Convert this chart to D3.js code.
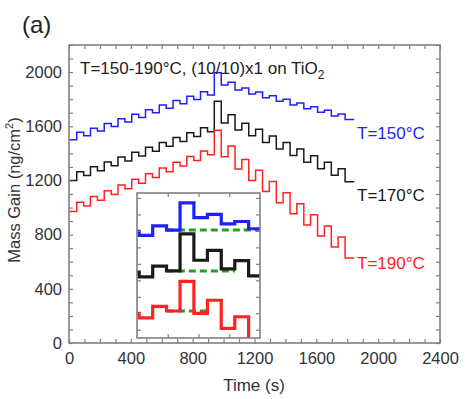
<!DOCTYPE html>
<html><head><meta charset="utf-8">
<script src="https://cdn.jsdelivr.net/npm/d3@7"></script>
<style>body{margin:0;background:#fff} text{font-family:"Liberation Sans",Arial,sans-serif}</style>
</head><body><svg id="c" width="467" height="399"></svg>
<script>
// Shared segment start times (s): alternating low / high plateaus of each ALD cycle
const segmentStart = [0,50,95,139,184,228,273,317,362,406,451,495,540,584,629,673,718,762,807,851,896,
  940,985,1029,1074,1118,1163,1207,1252,1296,1341,1385,1430,1474,1519,1563,1608,1652,1697,1741,1786];
const endTime = 1845;
// Mass gain (ng/cm2) per segment
const mass150 = [1500,1555,1530,1585,1565,1620,1598,1655,1632,1688,1665,1722,1700,1757,1733,1790,1766,1822,1798,1855,1830,
  1995,1905,1925,1868,1882,1838,1853,1811,1826,1784,1799,1757,1772,1730,1745,1703,1718,1676,1691,1650];
const mass170 = [1200,1265,1236,1301,1272,1337,1308,1373,1344,1409,1380,1445,1416,1481,1452,1517,1488,1553,1524,1589,1560,
  1785,1625,1685,1572,1622,1530,1578,1481,1529,1432,1480,1384,1432,1335,1383,1287,1335,1238,1286,1190];
const mass190 = [970,1040,1012,1082,1054,1124,1096,1166,1138,1208,1180,1250,1222,1292,1264,1334,1306,1376,1348,1418,1390,
  1570,1375,1455,1285,1355,1200,1275,1118,1192,1036,1110,954,1028,872,946,790,864,708,782,627];
const seriesNames = ["T=150°C","T=170°C","T=190°C"];
const seriesColors = ["#1f1fff","#1a1a1a","#ff2222"];
// Inset: vertical shift applied to each series, reference levels (green dashes)
const insetShift = [-1175,-1153,-1226];
const refLevel = [1830,1560,1390];
const refStart = [897,897,897];
const refEnd = [1196,1118,1037];
const xTickLabels = [0,400,800,1200,1600,2000,2400];
const yTickLabels = [0,400,800,1200,1600,2000];

const allSeries = [mass150, mass170, mass190];
const svg = d3.select("#c");
const L=69,R=440,T=45,B=343;
const x = d3.scaleLinear().domain([0,2400]).range([L,R]);
const y = d3.scaleLinear().domain([0,2200]).range([B,T]);
const frameColor="#808080", textColor="#333";
const FONT = "Liberation Sans, Arial, sans-serif";

// series
function pts(arr){ const p = arr.map((v,i)=>[segmentStart[i],v]); p.push([endTime,arr[arr.length-1]]); return p; }
allSeries.forEach((s,i)=>{
  svg.append("path").attr("d", d3.line().x(d=>x(d[0])).y(d=>y(d[1])).curve(d3.curveStepAfter)(pts(s)))
    .attr("fill","none").attr("stroke",seriesColors[i]).attr("stroke-width",1.5);
});

// axes with inward ticks
const minorX = d3.range(0,2401,100), minorY = d3.range(0,2201,100);
function tickAxis(axis, g){ g.call(axis); g.select(".domain").remove(); g.selectAll("line").attr("stroke",frameColor).attr("stroke-width",1.2); }
tickAxis(d3.axisBottom(x).tickValues(minorX).tickSize(-4).tickFormat(""), svg.append("g").attr("transform",`translate(0,${B})`));
tickAxis(d3.axisTop(x).tickValues(minorX).tickSize(-4).tickFormat(""), svg.append("g").attr("transform",`translate(0,${T})`));
tickAxis(d3.axisLeft(y).tickValues(minorY).tickSize(-4).tickFormat(""), svg.append("g").attr("transform",`translate(${L},0)`));
tickAxis(d3.axisRight(y).tickValues(minorY).tickSize(-4).tickFormat(""), svg.append("g").attr("transform",`translate(${R},0)`));
svg.append("rect").attr("x",L).attr("y",T).attr("width",R-L).attr("height",B-T).attr("fill","none").attr("stroke",frameColor).attr("stroke-width",1.6);

// tick labels
const xl = d3.axisBottom(x).tickValues(xTickLabels).tickSize(0).tickPadding(9).tickFormat(d3.format("d"));
const gx = svg.append("g").attr("transform",`translate(0,${B})`).call(xl);
gx.select(".domain").remove();
gx.selectAll("text").attr("font-size",16.5).attr("fill",textColor).attr("font-family",FONT);
const yl = d3.axisLeft(y).tickValues(yTickLabels).tickSize(0).tickPadding(7).tickFormat(d3.format("d"));
const gy = svg.append("g").attr("transform",`translate(${L},0)`).call(yl);
gy.select(".domain").remove();
gy.selectAll("text").attr("font-size",16.5).attr("fill",textColor).attr("font-family",FONT);

// titles
svg.append("text").attr("x",254).attr("y",391).attr("text-anchor","middle").attr("font-size",17).attr("fill",textColor).text("Time (s)");
const yt = svg.append("text").attr("transform","translate(20,190) rotate(-90)").attr("text-anchor","middle").attr("font-size",16.5).attr("fill",textColor);
yt.append("tspan").text("Mass Gain (ng/cm");
yt.append("tspan").attr("font-size",11).attr("dy",-7).text("2");
yt.append("tspan").attr("dy",7).text(")");
svg.append("text").attr("x",22).attr("y",33).attr("font-size",24).attr("fill","#222").text("(a)");
const tt = svg.append("text").attr("x",80).attr("y",74).attr("font-size",17).attr("fill","#222");
tt.append("tspan").text("T=150-190°C, (10/10)x1 on TiO");
tt.append("tspan").attr("font-size",12).attr("dy",5).text("2");

// series labels
const labelPos = [[357,139],[357,201],[357,269]];
seriesNames.forEach((n,i)=>svg.append("text").attr("x",labelPos[i][0]).attr("y",labelPos[i][1]).attr("font-size",17).attr("fill",seriesColors[i]).text(n));

// inset
const IL=137, IR=260, IT=193, IB=338;
const ix = d3.scaleLinear().domain([800,1200]).range([IL,IR]);
const iy = d3.scaleLinear().domain([0,880]).range([IB,IT]);
svg.append("rect").attr("x",IL).attr("y",IT).attr("width",IR-IL).attr("height",IB-IT).attr("fill","#fff");
svg.append("clipPath").attr("id","ic").append("rect").attr("x",IL).attr("y",IT).attr("width",IR-IL).attr("height",IB-IT);
const ig = svg.append("g").attr("clip-path","url(#ic)");
allSeries.forEach((s,i)=>{
  ig.append("line").attr("x1",ix(refStart[i])).attr("x2",ix(refEnd[i])).attr("y1",iy(refLevel[i]+insetShift[i])).attr("y2",iy(refLevel[i]+insetShift[i]))
    .attr("stroke","#22a022").attr("stroke-width",3).attr("stroke-dasharray","7,4");
});
allSeries.forEach((s,i)=>{
  ig.append("path").attr("d", d3.line().x(d=>ix(d[0])).y(d=>iy(d[1]+insetShift[i])).curve(d3.curveStepAfter)(pts(s)))
    .attr("fill","none").attr("stroke",seriesColors[i]).attr("stroke-width",3.2);
});
const ixt=[900,1000,1100], iyt=d3.range(50,880,100);
tickAxis(d3.axisBottom(ix).tickValues(ixt).tickSize(-4).tickFormat(""), svg.append("g").attr("transform",`translate(0,${IB})`));
tickAxis(d3.axisTop(ix).tickValues(ixt).tickSize(-4).tickFormat(""), svg.append("g").attr("transform",`translate(0,${IT})`));
tickAxis(d3.axisLeft(iy).tickValues(iyt).tickSize(-4).tickFormat(""), svg.append("g").attr("transform",`translate(${IL},0)`));
tickAxis(d3.axisRight(iy).tickValues(iyt).tickSize(-4).tickFormat(""), svg.append("g").attr("transform",`translate(${IR},0)`));
svg.append("rect").attr("x",IL).attr("y",IT).attr("width",IR-IL).attr("height",IB-IT).attr("fill","none").attr("stroke",frameColor).attr("stroke-width",1.6);
</script></body></html>
